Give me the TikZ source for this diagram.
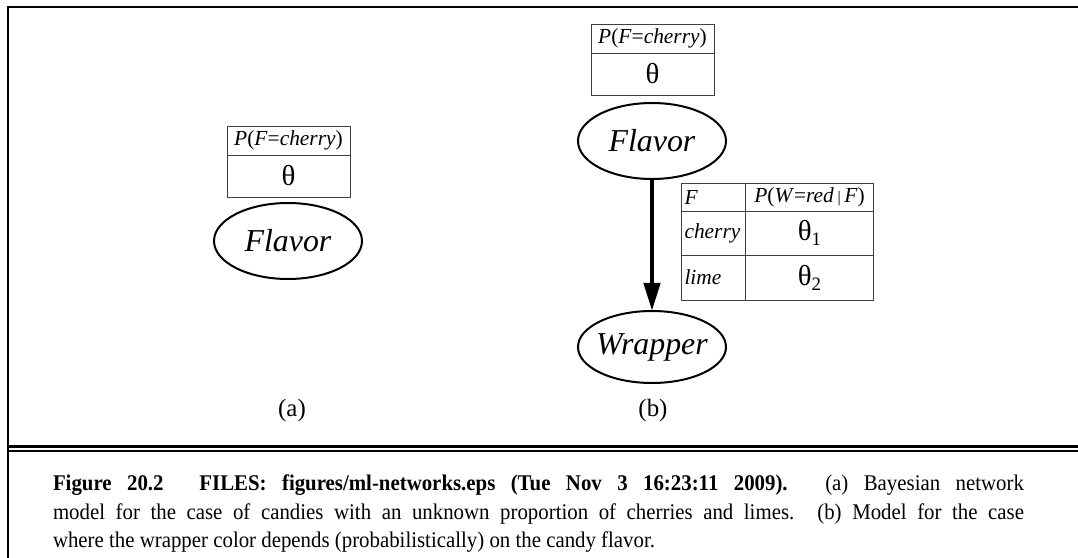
\documentclass[tikz,border=0pt]{standalone}
\usepackage{fontspec}
\setmainfont{Liberation Serif}
\newfontfamily\capfont[FakeStretch=0.93]{Liberation Serif}
\usetikzlibrary{arrows.meta,shapes.geometric}
\begin{document}
\begin{tikzpicture}[x=1bp,y=-1bp,
  every node/.style={inner sep=0pt, outer sep=0pt},
  frameline/.style={line width=2.5bp, line join=miter},
  cell/.style={draw=black!75, line width=0.9bp, rectangle, anchor=north west,
    font=\fontsize{21.5}{21.5}\selectfont},
  lcell/.style={cell, text width=58bp, inner xsep=3bp, align=left},
  var/.style={draw, ellipse, line width=2bp, minimum width=148bp, minimum height=76bp,
    font=\fontsize{32}{32}\selectfont\itshape},
  th/.style={font=\fontsize{29}{29}\selectfont},
  sublabel/.style={font=\fontsize{25}{25}\selectfont},
  edge/.style={line width=4.5bp, -{Triangle[length=28bp,width=16bp]}}
]
\useasboundingbox (0,0) rectangle (1078,558);
% frame
\draw[frameline] (8,558) -- (8,7) -- (1078,7);
\draw[line width=3bp] (8,446) -- (1078,446);
\draw[line width=1.5bp] (8,451) -- (1078,451);

% panel (a)
\node[cell, minimum width=123bp, minimum height=29bp] (pa1) at (227,126) {\textit{P}(\textit{F}=\textit{cherry})};
\node[cell, minimum width=123bp, minimum height=42bp, th] (pa2) at (227,155) {θ};
\node[var] (fa) at (288,241) {Flavor};
\node[sublabel] (la) at (292,411) {(a)};

% panel (b)
\node[cell, minimum width=123bp, minimum height=29bp] (pb1) at (591,24) {\textit{P}(\textit{F}=\textit{cherry})};
\node[cell, minimum width=123bp, minimum height=42bp, th] (pb2) at (591,53) {θ};
\node[var] (fb) at (652,141) {Flavor};
\node[var, minimum height=72bp, inner xsep=-5bp] (wb) at (652,347) {Wrapper};
\draw[edge] (fb) -- (wb);

% CPT for Wrapper
\node[lcell, minimum height=28bp] (c11) at (681.5,183) {\itshape F};
\node[cell, minimum width=128bp, minimum height=28bp] (c12) at (745.5,183) {\textit{P}(\textit{W}=\textit{red}\,{\fontsize{16}{16}\selectfont|}\,\textit{F})};
\node[lcell, minimum height=44bp] (c21) at (681.5,211) {\itshape cherry};
\node[cell, minimum width=128bp, minimum height=44bp, th] (c22) at (745.5,211) {θ{\fontsize{19}{19}\selectfont\raisebox{-5bp}{1}}};
\node[lcell, minimum height=45bp] (c31) at (681.5,255) {\itshape lime};
\node[cell, minimum width=128bp, minimum height=45bp, th] (c32) at (745.5,255) {θ{\fontsize{19}{19}\selectfont\raisebox{-5bp}{2}}};
\node[sublabel] (lb) at (653,411) {(b)};

% caption
\node[anchor=north west, text width=971bp, align=justify,
  font=\capfont\fontsize{22.5}{28.5}\selectfont] (cap) at (53,475)
 {\textbf{Figure 20.2\hspace{1.6em}FILES: figures/ml-networks.eps (Tue Nov 3 16:23:11 2009).} (a) Bayesian network\linebreak
 model for the case of candies with an unknown proportion of cherries and limes. (b) Model for the case\linebreak
 where the wrapper color depends (probabilistically) on the candy flavor.};
\end{tikzpicture}
\end{document}
